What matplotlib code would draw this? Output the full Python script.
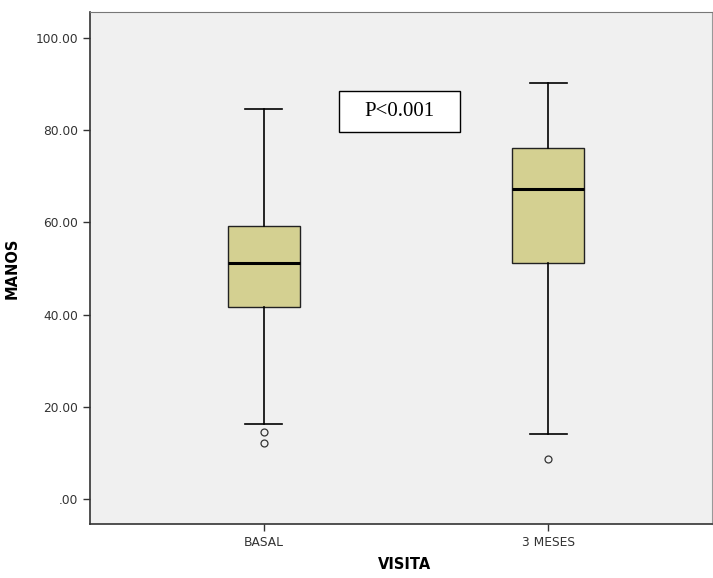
import matplotlib

matplotlib.use("Agg")
import matplotlib.pyplot as plt  # noqa: E402
from matplotlib.patches import Rectangle  # noqa: E402

categories = ["BASAL", "3 MESES"]
medians = [51.2, 67.2]
q1 = [41.7, 51.1]
q3 = [59.2, 76.2]
whisker_lo = [16.2, 14.2]
whisker_hi = [84.6, 90.1]
outliers = [[14.6, 12.1], [8.7]]

y_ticks = [0, 20, 40, 60, 80, 100]
y_ticklabels = [".00", "20.00", "40.00", "60.00", "80.00", "100.00"]

BOX_FILL = "#d4d091"
PANEL_BG = "#f0f0f0"

stats = [
    {
        "label": cat,
        "med": med,
        "q1": lo,
        "q3": hi,
        "whislo": wlo,
        "whishi": whi,
        "fliers": fl,
    }
    for cat, med, lo, hi, wlo, whi, fl in zip(
        categories, medians, q1, q3, whisker_lo, whisker_hi, outliers
    )
]

fig = plt.figure(figsize=(7.13, 5.78), dpi=100)
ax = fig.add_axes([0.1262, 0.0939, 0.8724, 0.8848])
ax.set_facecolor(PANEL_BG)

ax.bxp(
    stats,
    positions=range(len(categories)),
    widths=0.253,
    patch_artist=True,
    boxprops={"facecolor": BOX_FILL, "edgecolor": "#222222", "linewidth": 1.0},
    medianprops={"color": "black", "linewidth": 2.2},
    whiskerprops={"color": "black", "linewidth": 1.2},
    capprops={"color": "black", "linewidth": 1.2},
    capwidths=0.13,
    flierprops={
        "marker": "o",
        "markerfacecolor": "none",
        "markeredgecolor": "#333333",
        "markersize": 5,
        "markeredgewidth": 0.9,
    },
)

ax.set_xlim(-0.61, 1.575)
ax.set_ylim(-5.3, 105.5)
ax.set_yticks(y_ticks)
ax.set_yticklabels(y_ticklabels)
ax.set_xticks(range(len(categories)))
ax.set_xticklabels(categories)
ax.tick_params(axis="both", direction="out", length=5, width=1,
               colors="#333333", labelsize=8.8)

for side in ("left", "bottom"):
    ax.spines[side].set_color("#333333")
    ax.spines[side].set_linewidth(1.2)
ax.spines["top"].set_color("#777777")
ax.spines["right"].set_color("#999999")

ax.set_ylabel("MANOS", fontsize=10.5, fontweight="bold")
ax.yaxis.set_label_coords(-0.1125, 0.5)
ax.set_xlabel("VISITA", fontsize=10.5, fontweight="bold")
ax.xaxis.set_label_coords(0.506, -0.066)

# p-value annotation box
ax.add_patch(Rectangle((0.400, 0.766), 0.1945, 0.080, transform=ax.transAxes,
                       facecolor="white", edgecolor="black", linewidth=1.0,
                       zorder=5))
ax.text(0.4975, 0.806, "P<0.001", transform=ax.transAxes,
        ha="center", va="center", fontsize=15, family="Liberation Serif",
        zorder=6)

fig.savefig("out.png", dpi=100)
